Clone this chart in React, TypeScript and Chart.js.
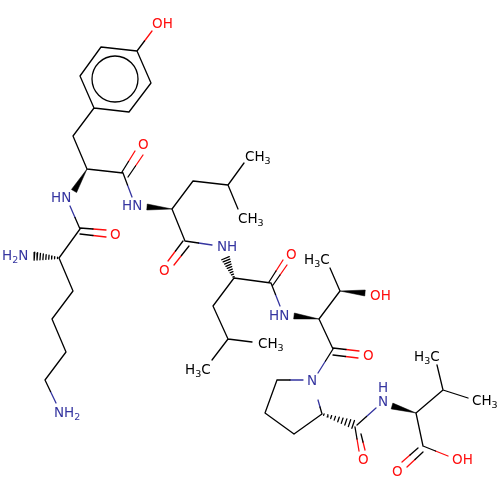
import { useEffect, useRef } from "react";
import { Chart, registerables } from "chart.js";

Chart.register(...registerables);

type Seg = [number, number, number, number];

// plain carbon skeleton in pixels
const blackBonds: Seg[] = [
  [137, 51, 101, 47], [101, 47, 80, 76], [80, 76, 94, 108], [94, 108, 129, 112], [129, 112, 151, 83], [151, 83, 137, 51],
  [94, 108, 73, 136], [73, 136, 87, 169], [87, 169, 123, 173],
  [80, 229, 59, 258], [59, 258, 73, 291], [73, 291, 52, 319], [52, 319, 66, 352], [66, 352, 45, 380],
  [172, 209, 193, 181], [193, 181, 228, 185], [172, 209, 185, 241],
  [234, 278, 271, 283], [234, 278, 213, 306], [213, 306, 228, 339],
  [319, 319, 340, 291], [319, 319, 333, 349],
  [277, 380, 265, 413], [265, 413, 294, 434], [294, 434, 322, 414],
  [416, 413, 443, 390], [416, 413, 423, 446],
];

// bonds that end in a label: black first half, coloured second half
const blueHalfBonds: Seg[] = [
  [80, 229, 70, 206], [123, 173, 132, 197], [185, 241, 212, 245], [271, 283, 280, 306],
  [45, 380, 56, 403], [333, 349, 318, 373], [277, 380, 303, 380], [322, 414, 318, 400], [357, 425, 376, 408],
];
const redHalfBonds: Seg[] = [
  [137, 51, 152, 31],
  [122, 172, 135, 151], [128, 177, 143, 155],
  [80, 228, 106, 230], [80, 234, 106, 237],
  [183, 241, 168, 261], [189, 246, 174, 265],
  [269, 282, 283, 260], [273, 285, 287, 265],
  [333, 348, 359, 351], [333, 355, 358, 358],
  [355, 427, 359, 451], [361, 434, 365, 450],
  [418, 448, 402, 462], [423, 452, 407, 467],
  [423, 446, 448, 456],
];
const plainMethyls: Seg[] = [
  [228, 185, 244, 163], [228, 185, 238, 209],
  [228, 339, 212, 360], [228, 339, 252, 342],
  [340, 291, 330, 268],
  [443, 390, 437, 365], [443, 390, 468, 398],
];

// tip x, tip y, wide end x, wide end y
const wedgeBonds: Seg[] = [
  [87, 169, 74, 191], [172, 209, 147, 207], [319, 319, 294, 316], [340, 291, 365, 293], [416, 413, 392, 406],
];
const hashBonds: Seg[] = [
  [59, 258, 33, 256], [234, 278, 225, 257], [322, 414, 355, 425],
];

const ringCentre = { x: 115, y: 79 };

// "_" marks a subscript digit
const labelTexts = [
  "OH", "O", "HN", "O", "H_2N", "NH_2", "HN", "CH_3", "CH_3", "O", "NH", "O",
  "HN", "H_3C", "CH_3", "H_3C", "OH", "O", "N", "O", "N", "H", "H_3C", "CH_3", "O", "OH",
];
const labelXs = [
  152, 138, 51, 110, 2, 54, 122, 245, 238, 159, 217, 286,
  269, 304, 258, 185, 370, 363, 307, 358, 378, 378, 414, 472, 392, 452,
];
const labelYs = [
  24, 145, 198, 235, 256, 413, 206, 157, 219, 271, 247, 255,
  316, 260, 344, 370, 296, 356, 381, 460, 402, 388, 357, 401, 472, 460,
];
const labelColors = [
  "r", "r", "b", "r", "b", "b", "b", "k", "k", "r", "b", "r",
  "b", "k", "k", "k", "r", "r", "b", "r", "b", "b", "k", "k", "r", "r",
];

const HASH_STROKES = 9;
const palette: Record<string, string> = { k: "#000000", b: "#3535a0", r: "#ff0d0d" };

const gap = { x: NaN, y: NaN };

function toPoints(segs: Seg[]) {
  return segs.flatMap(([x1, y1, x2, y2]) => [{ x: x1, y: y1 }, { x: x2, y: y2 }, gap]);
}

function firstHalf(segs: Seg[]): Seg[] {
  return segs.map(([x1, y1, x2, y2]) => [x1, y1, (x1 + x2) / 2, (y1 + y2) / 2]);
}

function secondHalf(segs: Seg[]): Seg[] {
  return segs.map(([x1, y1, x2, y2]) => [(x1 + x2) / 2, (y1 + y2) / 2, x2, y2]);
}

function wedgeShape([tx, ty, wx, wy]: Seg) {
  const len = Math.hypot(wx - tx, wy - ty);
  const nx = (-(wy - ty) / len) * 3;
  const ny = ((wx - tx) / len) * 3;
  return [{ x: tx, y: ty }, { x: wx + nx, y: wy + ny }, { x: wx - nx, y: wy - ny }, { x: tx, y: ty }];
}

function hashStrokes([tx, ty, wx, wy]: Seg): Seg[] {
  const len = Math.hypot(wx - tx, wy - ty);
  const ux = (wx - tx) / len;
  const uy = (wy - ty) / len;
  const out: Seg[] = [];
  for (let i = 0; i < HASH_STROKES; i++) {
    const f = (i + 0.5) / HASH_STROKES;
    const half = 0.5 + f * 3.8;
    const cx = tx + (wx - tx) * f;
    const cy = ty + (wy - ty) * f;
    out.push([cx - uy * half, cy + ux * half, cx + uy * half, cy - ux * half]);
  }
  return out;
}

const labelPlugin = {
  id: "atomLabels",
  afterDatasetsDraw(chart: any) {
    const { ctx, scales } = chart;
    ctx.save();
    ctx.textBaseline = "middle";
    ctx.textAlign = "left";
    labelTexts.forEach((text, i) => {
      let x = scales.x.getPixelForValue(labelXs[i]);
      const y = scales.y.getPixelForValue(labelYs[i]);
      ctx.fillStyle = palette[labelColors[i]];
      for (let c = 0; c < text.length; c++) {
        if (text[c] === "_") {
          c++;
          ctx.font = "9.5px 'DejaVu Sans'";
          ctx.fillText(text[c], x, y + 5);
        } else {
          ctx.font = "13.5px 'DejaVu Sans'";
          ctx.fillText(text[c], x, y);
        }
        x += ctx.measureText(text[c]).width;
      }
    });
    ctx.restore();
  },
};

export default function App() {
  const canvasRef = useRef<HTMLCanvasElement>(null);

  useEffect(() => {
    if (!canvasRef.current) return;

    const line = (segs: Seg[], color: string) => ({
      data: toPoints(segs),
      showLine: true,
      borderColor: color,
      borderWidth: 1.3,
      borderCapStyle: "round" as const,
      pointRadius: 0,
      tension: 0,
    });

    const chart = new Chart(canvasRef.current, {
      type: "scatter",
      data: {
        datasets: [
          line([...blackBonds, ...plainMethyls, ...firstHalf(blueHalfBonds), ...firstHalf(redHalfBonds)], palette.k),
          line(secondHalf(blueHalfBonds), palette.b),
          line(secondHalf(redHalfBonds), palette.r),
          line(hashBonds.flatMap(hashStrokes), palette.k),
          ...wedgeBonds.map((w) => ({
            data: wedgeShape(w),
            showLine: true,
            fill: "shape" as const,
            backgroundColor: palette.k,
            borderColor: palette.k,
            borderWidth: 0.5,
            pointRadius: 0,
            tension: 0,
          })),
          {
            data: [ringCentre],
            pointStyle: "circle",
            pointRadius: 23,
            pointBorderWidth: 1.3,
            pointBorderColor: palette.k,
            pointBackgroundColor: "rgba(0,0,0,0)",
          },
        ],
      },
      options: {
        animation: false,
        responsive: false,
        devicePixelRatio: 1,
        layout: { padding: 0, autoPadding: false },
        plugins: { legend: { display: false }, tooltip: { enabled: false } },
        scales: {
          x: { type: "linear", min: 0, max: 500, display: false },
          y: { type: "linear", min: 0, max: 500, reverse: true, display: false },
        },
      },
      plugins: [labelPlugin],
    } as any);

    return () => chart.destroy();
  }, []);

  return (
    <canvas
      ref={canvasRef}
      width={500}
      height={500}
      style={{ position: "fixed", left: 0, top: 0, width: 500, height: 500, display: "block" }}
    />
  );
}
